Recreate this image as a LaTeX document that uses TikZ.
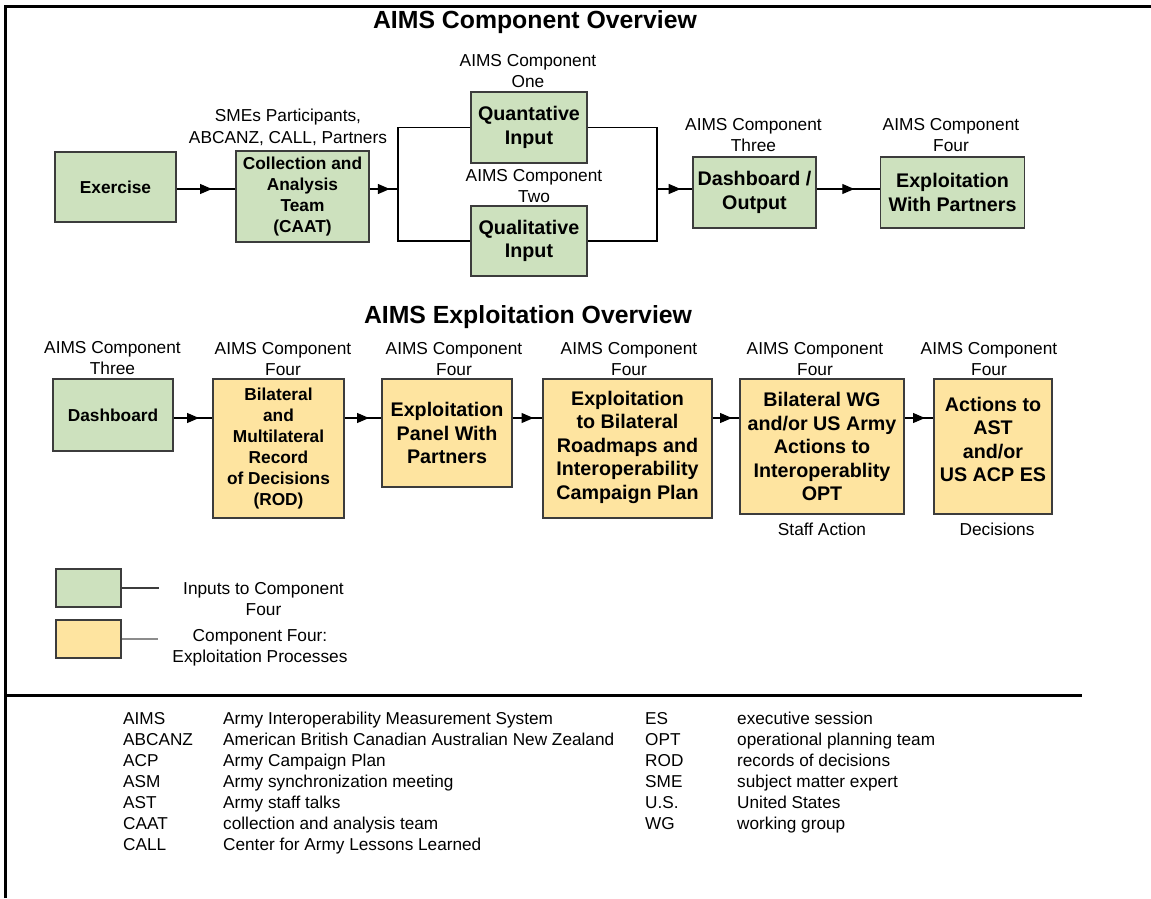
\documentclass[tikz,border=0pt]{standalone}
\usepackage{fontspec}
\setmainfont{Liberation Sans}
\usetikzlibrary{arrows.meta,decorations.markings}
\definecolor{gfill}{RGB}{205,225,190}
\definecolor{yfill}{RGB}{254,228,160}
\definecolor{edge}{RGB}{60,60,60}
\definecolor{lgray}{RGB}{140,140,140}
\begin{document}
\begin{tikzpicture}[x=1pt,y=-1pt,
  gbox/.style={draw=edge, line width=1.3pt, fill=gfill, inner sep=0pt, align=center},
  ybox/.style={draw=edge, line width=1.3pt, fill=yfill, inner sep=0pt, align=center},
  bsmall/.style={font=\fontsize{17.3}{21}\selectfont\bfseries},
  bbig/.style={font=\fontsize{19.7}{23.5}\selectfont\bfseries},
  lab/.style={font=\fontsize{17.3}{20.5}\selectfont, align=center, anchor=base, inner sep=0pt},
  ttl/.style={font=\fontsize{24.8}{28}\selectfont\bfseries, anchor=base, inner sep=0pt},
  foot/.style={font=\fontsize{17.2}{21}\selectfont, anchor=base west, inner sep=0pt},
  conn/.style={line width=1.2pt, black},
  flowarrow/.style={conn, postaction={decorate}, decoration={markings,
     mark=at position 0.5 with {\arrow[xshift=6pt]{Triangle[length=12pt,width=10pt]}}}}
]
\useasboundingbox (0,0) rectangle (1151,898);
% frame
\draw[line width=3pt] (5.5,898) -- (5.5,6.5) -- (1151,6.5);
\draw[line width=3pt] (5.5,695) -- (1082,695);

% ---------- top section ----------
\node[ttl] (t1) at (535,28) {AIMS Component Overview};

\node[gbox, bsmall, minimum width=121, minimum height=70] (ex) at (115.5,187) {Exercise};
\node[gbox, bsmall, minimum width=133, minimum height=91] (caat) at (302.5,196.5) {Collection and\\Analysis\\Team\\(CAAT)};
\node[gbox, bbig, minimum width=116, minimum height=71] (quant) at (529,127.5) {Quantative\\Input};
\node[gbox, bbig, minimum width=116, minimum height=70] (qual) at (529,241) {Qualitative\\Input};
\node[gbox, bbig, minimum width=123, minimum height=71] (dash) at (754.5,192.5) {Dashboard /\\Output};
\node[gbox, bbig, minimum width=144, minimum height=71] (expl) at (952.5,192.5) {Exploitation\\With Partners};

% labels: anchor base = baseline of the last line
\node[lab] (lsme) at (288,143) {SMEs Participants,\\[1.5pt]ABCANZ, CALL, Partners};
\node[lab] (l1) at (528,87) {AIMS Component\\One};
\node[lab] (l2) at (534,202) {AIMS Component\\Two};
\node[lab] (l3) at (753.5,151) {AIMS Component\\Three};
\node[lab] (l4) at (951,151) {AIMS Component\\Four};

\coordinate (rowA) at (0,189);
\coordinate (bl) at (398,189);
\coordinate (br) at (657,189);
\draw[flowarrow] (ex.east |- rowA) -- (caat.west |- rowA);
\draw[flowarrow] (caat.east |- rowA) -- (bl);
\draw[conn] (quant.west) -| (bl) |- (qual.west);
\draw[conn] (quant.east) -| (br) |- (qual.east);
\draw[flowarrow] (br) -- (dash.west |- rowA);
\draw[flowarrow] (dash.east |- rowA) -- (expl.west |- rowA);

% ---------- bottom section ----------
\node[ttl] (t2) at (528,323) {AIMS Exploitation Overview};

\node[gbox, bsmall, minimum width=120, minimum height=72] (d2) at (113,415) {Dashboard};
\node[ybox, bsmall, minimum width=131, minimum height=139] (rod) at (278.5,448.5) {Bilateral\\and\\Multilateral\\Record\\of Decisions\\(ROD)};
\node[ybox, bbig, minimum width=130, minimum height=108] (panel) at (447,433) {Exploitation\\Panel With\\Partners};
\node[ybox, bbig, minimum width=169, minimum height=139, text depth=7pt] (road) at (627.5,448.5) {Exploitation\\to Bilateral\\Roadmaps and\\Interoperability\\Campaign Plan};
\node[ybox, bbig, minimum width=164, minimum height=135] (opt) at (822,446.5) {Bilateral WG\\and/or US Army\\Actions to\\Interoperablity\\OPT};
\node[ybox, bbig, minimum width=118, minimum height=135, text depth=14pt] (ast) at (993,446.5) {Actions to\\AST\\and/or\\US ACP ES};

\node[lab] (m1) at (112.5,374) {AIMS Component\\Three};
\node[lab] (m2) at (283,375) {AIMS Component\\Four};
\node[lab] (m3) at (454,375) {AIMS Component\\Four};
\node[lab] (m4) at (629,375) {AIMS Component\\Four};
\node[lab] (m5) at (815,375) {AIMS Component\\Four};
\node[lab] (m6) at (989,375) {AIMS Component\\Four};
\node[lab] (sa) at (822,535) {Staff Action};
\node[lab] (dc) at (997,535) {Decisions};

\coordinate (rowB) at (0,418);
\draw[flowarrow] (d2.east |- rowB) -- (rod.west |- rowB);
\draw[flowarrow] (rod.east |- rowB) -- (panel.west |- rowB);
\draw[flowarrow] (panel.east |- rowB) -- (road.west |- rowB);
\draw[flowarrow] (road.east |- rowB) -- (opt.west |- rowB);
\draw[flowarrow] (opt.east |- rowB) -- (ast.west |- rowB);

% ---------- legend ----------
\node[gbox, minimum width=65, minimum height=38] (lg) at (88.5,588) {};
\node[ybox, minimum width=65, minimum height=38] (ly) at (88.5,639) {};
\coordinate (lge) at (159,588);
\coordinate (lye) at (158,639);
\draw[line width=1.5pt, edge] (lg.east) -- (lge);
\draw[line width=1.3pt, lgray] (ly.east) -- (lye);
\node[lab] (lgt) at (263.5,615) {Inputs to Component\\Four};
\node[lab] (lyt) at (260,662) {Component Four:\\Exploitation Processes};

% ---------- abbreviations ----------
\foreach \a/\d [count=\i] in {AIMS/Army Interoperability Measurement System,
  ABCANZ/American British Canadian Australian New Zealand,
  ACP/Army Campaign Plan,
  ASM/Army synchronization meeting,
  AST/Army staff talks,
  CAAT/collection and analysis team,
  CALL/Center for Army Lessons Learned}{
  \node[foot] (fa\i) at (123,703+21*\i) {\a};
  \node[foot] (fd\i) at (223,703+21*\i) {\d};
}
\foreach \a/\d [count=\i] in {ES/executive session,
  OPT/operational planning team,
  ROD/records of decisions,
  SME/subject matter expert,
  U.S./United States,
  WG/working group}{
  \node[foot] (ga\i) at (645,703+21*\i) {\a};
  \node[foot] (gd\i) at (737,703+21*\i) {\d};
}
\end{tikzpicture}
\end{document}
